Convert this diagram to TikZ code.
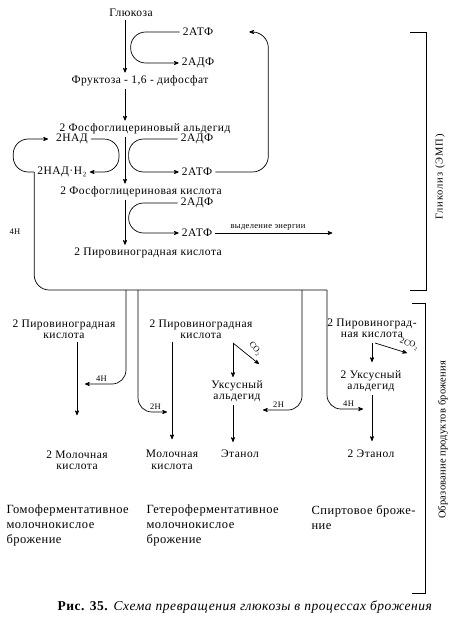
\documentclass[tikz,border=0pt]{standalone}
\usepackage{fontspec}
\setmainfont{Liberation Serif}[LetterSpace=4]
\usetikzlibrary{arrows}

\begin{document}
\begin{tikzpicture}[x=1pt,y=-1pt,>=stealth']
          \tikzstyle{txt} = [font=\fontsize{11.5}{11.5}\selectfont, align=center, inner sep=3pt]
          \tikzstyle{lbl} = [font=\fontsize{8.5}{9}\selectfont, inner sep=1pt]
          \tikzstyle{gas} = [font=\fontsize{8.5}{9}\selectfont\addfontfeatures{LetterSpace=0}, inner sep=0.5pt]
          \tikzstyle{descr} = [font=\fontsize{12.5}{15}\selectfont, align=left, anchor=west]
          \tikzstyle{side} = [font=\fontsize{10.5}{11}\selectfont, rotate=90]
          \tikzstyle{line} = [draw,->,line width=0.7pt]
          \tikzstyle{loopline} = [line, rounded corners=15pt]
          \tikzstyle{bracket} = [draw, line width=0.8pt]

          \useasboundingbox (0,0) rectangle (468,626);
          \coordinate (Trunk) at (125,0);

          \node(Glukoza)[txt] at (131,13) {Глюкоза};
          \node(ATFa)[txt] at (198,32) {2АТФ};
          \tikzset{node distance = 31pt}
          \node(ADFa)[txt,below of = ATFa]{2АДФ};
          \node(Fruktoza)[txt] at (140,81) {Фруктоза - 1,6 - дифосфат};
          \node(PGAld)[txt] at (145,129) {2 Фосфоглицериновый альдегид};
          \node(NAD)[txt] at (72,139) {2НАД};
          \node(NADH)[txt] at (62,172) {2НАД·Н₂};
          \node(ADFb)[txt] at (197,139) {2АДФ};
          \tikzset{node distance = 33pt}
          \node(ATFb)[txt,below of = ADFb]{2АТФ};
          \node(PGA)[txt] at (141,192) {2 Фосфоглицериновая кислота};
          \node(ADFc)[txt] at (197,203) {2АДФ};
          \tikzset{node distance = 30pt}
          \node(ATFc)[txt,below of = ADFc]{2АТФ};
          \node(Pyr)[txt] at (148,253) {2 Пировиноградная кислота};

          \draw[line] (Glukoza.south -| Trunk) -- (Fruktoza.north -| Trunk);
          \draw[line] (Fruktoza.south -| Trunk) -- (PGAld.north -| Trunk);
          \draw[line] (PGAld.south -| Trunk) -- (PGA.north -| Trunk);
          \draw[line] (PGA.south -| Trunk) -- (Pyr.north -| Trunk);

          \draw[loopline] (ATFa.west) -- ++(-49,0) |- (ADFa.west);
          \draw[loopline] (ADFb.west) -- ++(-49,0) |- (ATFb.west);
          \draw[loopline] (ADFc.west) -- ++(-49,0) |- (ATFc.west);
          \draw[loopline] (NAD.east) -- ++(28,0) |- (NADH.east);
          \draw[loopline,shorten >=5pt] (NADH.west) -- ++(-21,0) |- (NAD.west);

          \coordinate (ATFret) at ([xshift=33pt]ATFa.east);
          \draw[line,rounded corners=16pt] (ATFb.east) -| ([xshift=19pt]ATFret) -- (ATFret);
          \coordinate (Energy) at ([xshift=117pt]ATFc.east);
          \draw[line] (ATFc.east) -- node[lbl,above=1pt,pos=0.45]{выделение энергии} (Energy);

          % fermentation
          \coordinate (CollA) at (126,290);
          \coordinate (CollB) at (138,290);
          \coordinate (CollC) at (302,290);
          \coordinate (CollD) at (327,290);
          \draw[line width=0.7pt,rounded corners=15pt] (NADH.west) |- (CollD);
          \node[lbl] at (15,232) {4Н};

          \node(PyrA)[txt] at (64,329) {2 Пировиноградная\\кислота};
          \node(LactA)[txt] at (77,460) {2 Молочная\\кислота};
          \node(PyrB)[txt] at (201,329) {2 Пировиноградная\\кислота};
          \node(LactB)[txt] at (172,460) {Молочная\\кислота};
          \node(AcetB)[txt] at (237,391) {Уксусный\\альдегид};
          \node(EthB)[txt] at (240,454) {Этанол};
          \node(PyrC)[txt] at (372,328) {2 Пировиноград-\\ная кислота};
          \node(AcetC)[txt] at (371,381) {2 Уксусный\\альдегид};
          \node(EthC)[txt] at (371,454) {2 Этанол};

          \draw[line,shorten >=32pt] (PyrA.south -| LactA.north) -- (LactA.north);
          \draw[line,shorten >=8pt] (PyrB.south -| LactB.north) -- (LactB.north);

          \coordinate (ForkB) at (233,343);
          \coordinate (CO2B) at (259,364);
          \draw[line] (ForkB) -- (ForkB |- AcetB.north);
          \draw[line] (ForkB) -- (CO2B);
          \node[gas,rotate=-50] at (255,349) {CO₂};
          \draw[line,shorten >=5pt] (AcetB.south -| ForkB) -- (EthB.north -| ForkB);

          \coordinate (ForkC) at (372,343);
          \coordinate (CO2C) at (407,353);
          \draw[line,shorten >=5pt] (ForkC) -- (ForkC |- AcetC.north);
          \draw[line] ([xshift=3pt]ForkC) -- (CO2C);
          \node[gas,rotate=-20] at (409,344) {2CO₂};
          \draw[line,shorten >=6pt] (AcetC.south -| ForkC) -- (EthC.north -| ForkC);

          \coordinate (HA) at (85,384);
          \coordinate (HB) at (167,412);
          \coordinate (HC) at (263,410);
          \coordinate (HD) at (363,409);
          \draw[line,rounded corners=14pt] (CollA) |- node[lbl,above=1pt,pos=0.8]{4Н} (HA);
          \draw[line,rounded corners=14pt] (CollB) |- node[lbl,above=1pt,pos=0.8]{2Н} (HB);
          \draw[line,rounded corners=14pt] (CollC) |- node[lbl,above=1pt,pos=0.8]{2Н} (HC);
          \draw[line,rounded corners=14pt] (CollD) |- node[lbl,above=1pt,pos=0.8]{4Н} (HD);

          \node(Homo)[descr] at (3,525) {Гомоферментативное\\молочнокислое\\брожение};
          \node(Hetero)[descr] at (143,525) {Гетероферментативное\\молочнокислое\\брожение};
          \node(Alco)[descr] at (308,517.5) {Спиртовое броже-\\ние};

          \draw[bracket] (410,32) -- (426,32) -- (426,290) -- (410,290);
          \node(Glyc)[side] at (440,177) {\addfontfeatures{LetterSpace=9}Гликолиз (ЭМП)};
          \draw[bracket] (412,303) -- (425,303) -- (425,593) -- (412,593);
          \node(Ferm)[side] at (443,440) {\addfontfeatures{LetterSpace=2}Образование продуктов брожения};

          \node(Caption)[font=\fontsize{13.5}{13.5}\selectfont] at (245,607) {\textbf{Рис. 35.} \textit{Схема превращения глюкозы в процессах брожения}};
        \end{tikzpicture}
\end{document}
